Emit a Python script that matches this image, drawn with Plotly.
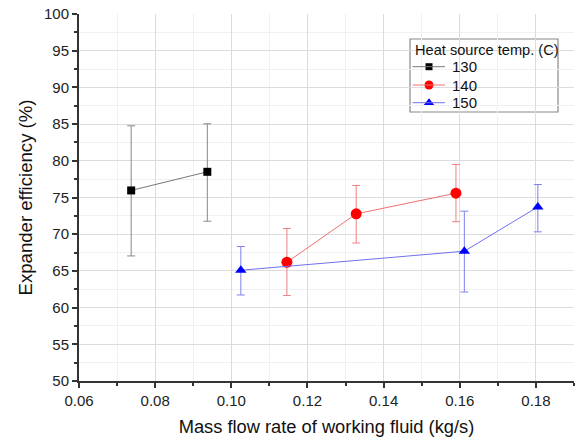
import plotly.graph_objects as go

# Data
x130 = [0.0737, 0.0937]
y130 = [75.96, 78.5]
hi130 = [84.77, 85.04]
lo130 = [67.04, 71.77]

x140 = [0.1146, 0.1328, 0.1590]
y140 = [66.18, 72.77, 75.59]
hi140 = [70.77, 76.64, 79.5]
lo140 = [61.64, 68.8, 71.7]

x150 = [0.1025, 0.1612, 0.1805]
y150 = [65.09, 67.68, 73.72]
hi150 = [68.32, 73.14, 76.77]
lo150 = [61.72, 62.13, 70.32]

legend_title = "Heat source temp. (C)"
names = ["130", "140", "150"]

series = [
    (x130, y130, hi130, lo130, "black", "#777777", "#888888", "square", 8, 7),
    (x140, y140, hi140, lo140, "red", "#f07070", "#f08080", "circle", 11, 9),
    (x150, y150, hi150, lo150, "blue", "#7070f0", "#8080f0", "triangle-up", 10, 9),
]

font = "Liberation Sans, Arial, sans-serif"
fig = go.Figure()

# legend layout (plot-area fractions)
box = dict(x0=0.6687, x1=0.9677, y0=0.733, y1=0.9319)
row_y = [0.8564, 0.8065, 0.7583]
line_x = (0.6741, 0.7394)
mark_x = 0.7071
text_x = 0.7495

for i, (xs, ys, hi, lo, mc, lc, ec, sym, ms, lms) in enumerate(series):
    fig.add_trace(go.Scatter(
        x=xs, y=ys, name=names[i], mode="lines+markers", showlegend=False,
        line=dict(color=lc, width=1),
        marker=dict(color=mc, symbol=sym, size=ms),
        error_y=dict(type="data", symmetric=False,
                     array=[h - y for h, y in zip(hi, ys)],
                     arrayminus=[y - l for l, y in zip(lo, ys)],
                     color=ec, thickness=1, width=4),
    ))
    # custom legend entry
    fig.add_shape(type="line", xref="x domain", yref="y domain",
                  x0=line_x[0], x1=line_x[1], y0=row_y[i], y1=row_y[i],
                  line=dict(color=lc, width=1), layer="above")
    fig.add_trace(go.Scatter(
        x=[mark_x], y=[row_y[i]], xaxis="x2", yaxis="y2", mode="markers",
        showlegend=False, hoverinfo="skip",
        marker=dict(color=mc, symbol=sym, size=lms),
    ))
    fig.add_annotation(xref="x domain", yref="y domain", x=text_x, y=row_y[i],
                       text=names[i], showarrow=False, xanchor="left", yanchor="middle",
                       font=dict(size=15, color="#111111", family=font))

fig.add_shape(type="rect", xref="x domain", yref="y domain", layer="below",
              fillcolor="white", line=dict(color="#888888", width=1.2), **box)
fig.add_annotation(xref="x domain", yref="y domain", x=0.6747, y=0.9019,
                   text=legend_title, showarrow=False, xanchor="left", yanchor="middle",
                   font=dict(size=14.6, color="#111111", family=font))

fig.update_layout(
    width=580, height=442,
    margin=dict(l=79, r=6, t=14, b=61),
    paper_bgcolor="white", plot_bgcolor="white",
    font=dict(family=font, color="#222222"),
    showlegend=False,
    xaxis=dict(
        range=[0.06, 0.19], dtick=0.02, tick0=0.06, tickformat=".2f",
        showgrid=True, gridcolor="#dcdcdc", gridwidth=1,
        showline=True, linecolor="#333333", linewidth=2,
        ticks="outside", ticklen=5, tickwidth=1.5, tickcolor="#333333",
        tickfont=dict(size=15, color="#222222"),
        zeroline=False,
        minor=dict(dtick=0.01, tick0=0.06, showgrid=True, gridcolor="#f0f0f0",
                   ticks="outside", ticklen=3, tickcolor="#333333"),
        title=dict(text="Mass flow rate of working fluid (kg/s)",
                   font=dict(size=18.3, color="#111111"), standoff=12),
    ),
    yaxis=dict(
        range=[50, 100], dtick=5,
        showgrid=True, gridcolor="#dcdcdc", gridwidth=1,
        showline=True, linecolor="#333333", linewidth=2,
        ticks="outside", ticklen=5, tickwidth=1.5, tickcolor="#333333",
        tickfont=dict(size=15, color="#222222"),
        zeroline=False,
        minor=dict(dtick=2.5, showgrid=True, gridcolor="#f0f0f0",
                   ticks="outside", ticklen=3, tickcolor="#333333"),
        title=dict(text="Expander efficiency (%)",
                   font=dict(size=18.6, color="#111111"), standoff=6),
    ),
    xaxis2=dict(overlaying="x", range=[0, 1], visible=False, fixedrange=True),
    yaxis2=dict(overlaying="y", range=[0, 1], visible=False, fixedrange=True),
)

fig.write_html("out.html")
